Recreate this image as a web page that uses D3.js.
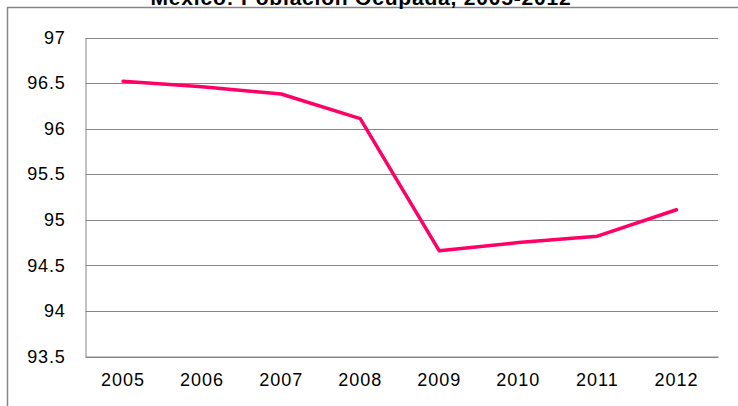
<!DOCTYPE html>
<html>
<head>
<meta charset="utf-8">
<script src="https://cdn.jsdelivr.net/npm/d3@7"></script>
<style>
  body { margin: 0; background: #fff; }
  svg { display: block; font-family: "Liberation Sans", Arial, sans-serif; }
</style>
</head>
<body>
<svg id="chart" width="738" height="406"></svg>
<script>
// data
var years = ["2005", "2006", "2007", "2008", "2009", "2010", "2011", "2012"];
var ocupada = [96.52, 96.46, 96.38, 96.11, 94.66, 94.75, 94.82, 95.11];
var yTicks = [93.5, 94, 94.5, 95, 95.5, 96, 96.5, 97];

var svg = d3.select("#chart");
var margin = { left: 85.5, right: 20, top: 37.5, bottom: 49.5 };
var width = 738, height = 406;

// outer chart border (only top and left are visible)
svg.append("path")
    .attr("d", "M7.5,406 L7.5,7.5 L738,7.5")
    .attr("fill", "none")
    .attr("stroke", "#868686")
    .attr("stroke-width", 1.5);

// title, mostly cut off at the top like in the original
svg.append("text")
    .attr("x", 361)
    .attr("y", 5)
    .attr("text-anchor", "middle")
    .attr("font-size", 21)
    .attr("font-weight", "bold")
    .attr("letter-spacing", 0.8)
    .text("México: Población Ocupada, 2005-2012");

var x = d3.scaleBand()
    .domain(years)
    .range([margin.left, width - margin.right]);

var y = d3.scaleLinear()
    .domain([93.5, 97])
    .range([height - margin.bottom, margin.top]);

// gridlines
svg.append("g")
    .selectAll("line")
    .data(yTicks)
    .enter()
    .append("line")
    .attr("x1", margin.left)
    .attr("x2", width - margin.right)
    .attr("y1", function (d) { return Math.round(y(d)) + 0.5; })
    .attr("y2", function (d) { return Math.round(y(d)) + 0.5; })
    .attr("stroke", "#868686")
    .attr("stroke-width", 1);

// y axis
var yAxis = svg.append("g")
    .attr("transform", "translate(" + margin.left + ",0)")
    .call(d3.axisLeft(y).tickValues(yTicks).tickSize(0).tickPadding(20).tickFormat(d3.format("")));
yAxis.select(".domain").attr("stroke", "#868686");
yAxis.selectAll("text").attr("font-size", 18).attr("fill", "#000")
    .attr("letter-spacing", 0.8)
    .attr("font-family", "Liberation Sans, Arial, sans-serif");

// x axis
var xAxis = svg.append("g")
    .attr("transform", "translate(0," + (height - margin.bottom) + ")")
    .call(d3.axisBottom(x).tickSize(0).tickPadding(17));
xAxis.select(".domain").attr("stroke", "#868686");
xAxis.selectAll("text").attr("font-size", 18).attr("fill", "#000")
    .attr("letter-spacing", 1)
    .attr("font-family", "Liberation Sans, Arial, sans-serif")
    .attr("dx", -2);

// the line
var line = d3.line()
    .x(function (d, i) { return x(years[i]) + x.bandwidth() / 2 - 2; })
    .y(function (d) { return y(d); });

svg.append("path")
    .datum(ocupada)
    .attr("d", line)
    .attr("fill", "none")
    .attr("stroke", "#FF0066")
    .attr("stroke-width", 3.5)
    .attr("stroke-linejoin", "round")
    .attr("stroke-linecap", "round");
</script>
</body>
</html>
